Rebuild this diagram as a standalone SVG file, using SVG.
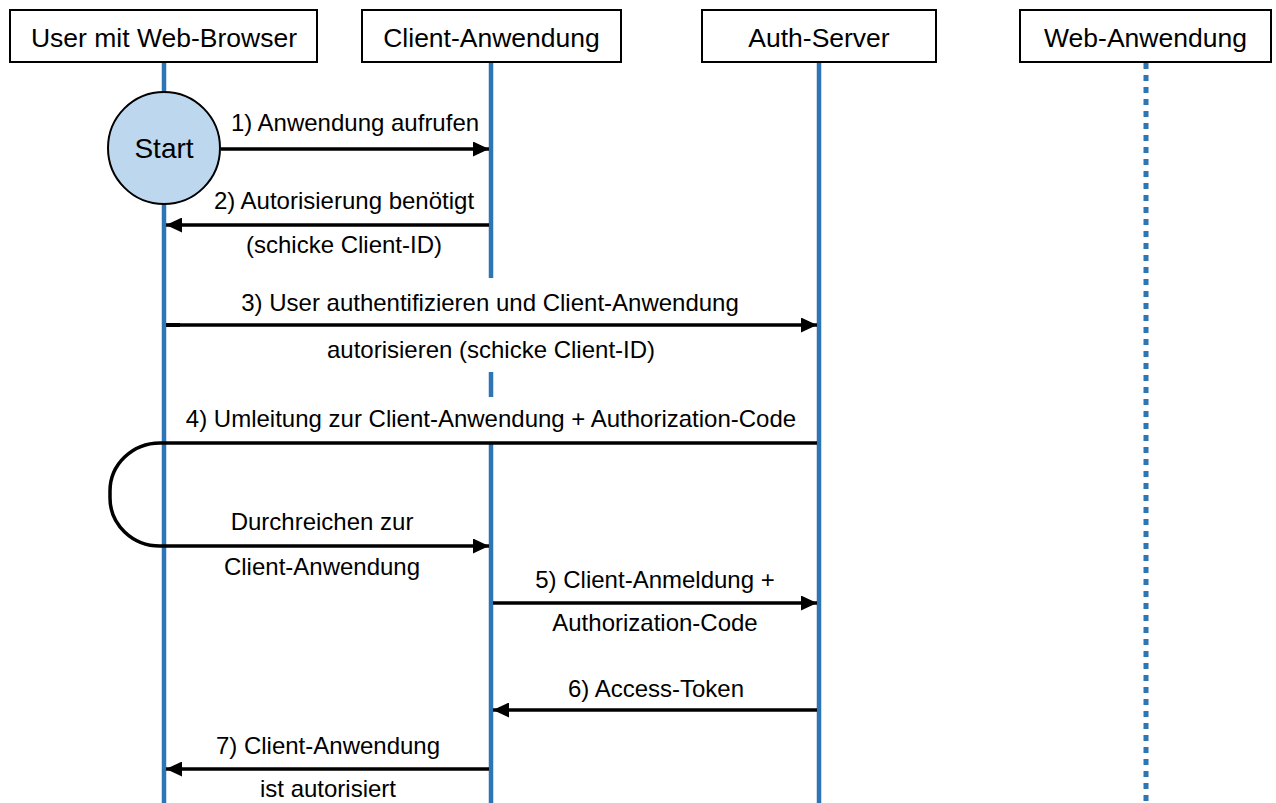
<svg xmlns="http://www.w3.org/2000/svg" width="1276" height="803" viewBox="0 0 1276 803">
  <style>
    .box { fill: #ffffff; stroke: #000000; stroke-width: 2; }
    .head { font-family: "Liberation Sans", Arial, sans-serif; font-size: 26.5px; fill: #000000; text-anchor: middle; }
    .lbl { font-family: "Liberation Sans", Arial, sans-serif; font-size: 24px; fill: #000000; text-anchor: middle; }
    .life { stroke: #2E75B6; stroke-width: 4.5; fill: none; }
    .dotted { stroke: #2E75B6; stroke-width: 5; fill: none; stroke-dasharray: 6 6; }
    .msg { stroke: #000000; stroke-width: 3.5; fill: none; marker-end: url(#arrow); }
  </style>
  <defs>
    <marker id="arrow" viewBox="0 0 16 15" refX="16" refY="7.5" markerWidth="16" markerHeight="15" markerUnits="userSpaceOnUse" orient="auto">
      <path d="M0,0 L16,7.5 L0,15 z" fill="#000000"/>
    </marker>
  </defs>
  <rect width="1276" height="803" fill="#ffffff"/>

  <!-- lifelines -->
  <g id="lifelines">
    <path class="life" d="M164,62 V92 M164,204 V803"/>
    <path class="life" d="M491,62 V278 M491,372 V397 M491,443 V803"/>
    <path class="life" d="M819,62 V803"/>
    <path class="dotted" d="M1146,63 V803"/>
  </g>

  <!-- participants -->
  <g id="user">
    <rect class="box" x="10" y="10" width="307" height="52"/>
    <text class="head" x="164" y="46.5">User mit Web-Browser</text>
  </g>
  <g id="client">
    <rect class="box" x="362" y="10" width="259" height="52"/>
    <text class="head" x="491.5" y="46.5">Client-Anwendung</text>
  </g>
  <g id="auth">
    <rect class="box" x="702" y="10" width="234" height="52"/>
    <text class="head" x="819" y="46.5">Auth-Server</text>
  </g>
  <g id="webapp">
    <rect class="box" x="1020" y="10" width="251" height="52"/>
    <text class="head" x="1145.5" y="46.5">Web-Anwendung</text>
  </g>
  <g id="start">
    <circle cx="164" cy="148" r="56" fill="#BDD7EE" stroke="#000000" stroke-width="2"/>
    <text class="head" style="font-size:28px" x="164" y="158">Start</text>
  </g>

  <!-- messages -->
  <g id="connectors">
    <path class="msg" d="M221,149 H489"/>
    <path class="msg" d="M489,225 H166"/>
    <path class="msg" d="M166,325 H817"/>
    <path d="M166,325 H180" stroke="#000000" stroke-width="4"/>
    <path class="msg" d="M817,443 H160 A50 48 0 0 0 110 491 V498 A50 48 0 0 0 160 546 H489"/>
    <path class="msg" d="M493,603 H817"/>
    <path class="msg" d="M817,710 H493"/>
    <path class="msg" d="M489,769 H166"/>
  </g>

  <g id="labels">
    <text class="lbl" x="355" y="131">1) Anwendung aufrufen</text>
    <text class="lbl" x="344" y="209">2) Autorisierung benötigt</text>
    <text class="lbl" x="344" y="253">(schicke Client-ID)</text>
    <text class="lbl" x="490" y="311">3) User authentifizieren und Client-Anwendung</text>
    <text class="lbl" x="491" y="358">autorisieren (schicke Client-ID)</text>
    <text class="lbl" x="491" y="427">4) Umleitung zur Client-Anwendung + Authorization-Code</text>
    <text class="lbl" x="322" y="530">Durchreichen zur</text>
    <text class="lbl" x="322" y="575">Client-Anwendung</text>
    <text class="lbl" x="655" y="588">5) Client-Anmeldung +</text>
    <text class="lbl" x="655" y="631">Authorization-Code</text>
    <text class="lbl" x="656" y="697">6) Access-Token</text>
    <text class="lbl" x="328" y="754">7) Client-Anwendung</text>
    <text class="lbl" x="328" y="797">ist autorisiert</text>
  </g>
</svg>
